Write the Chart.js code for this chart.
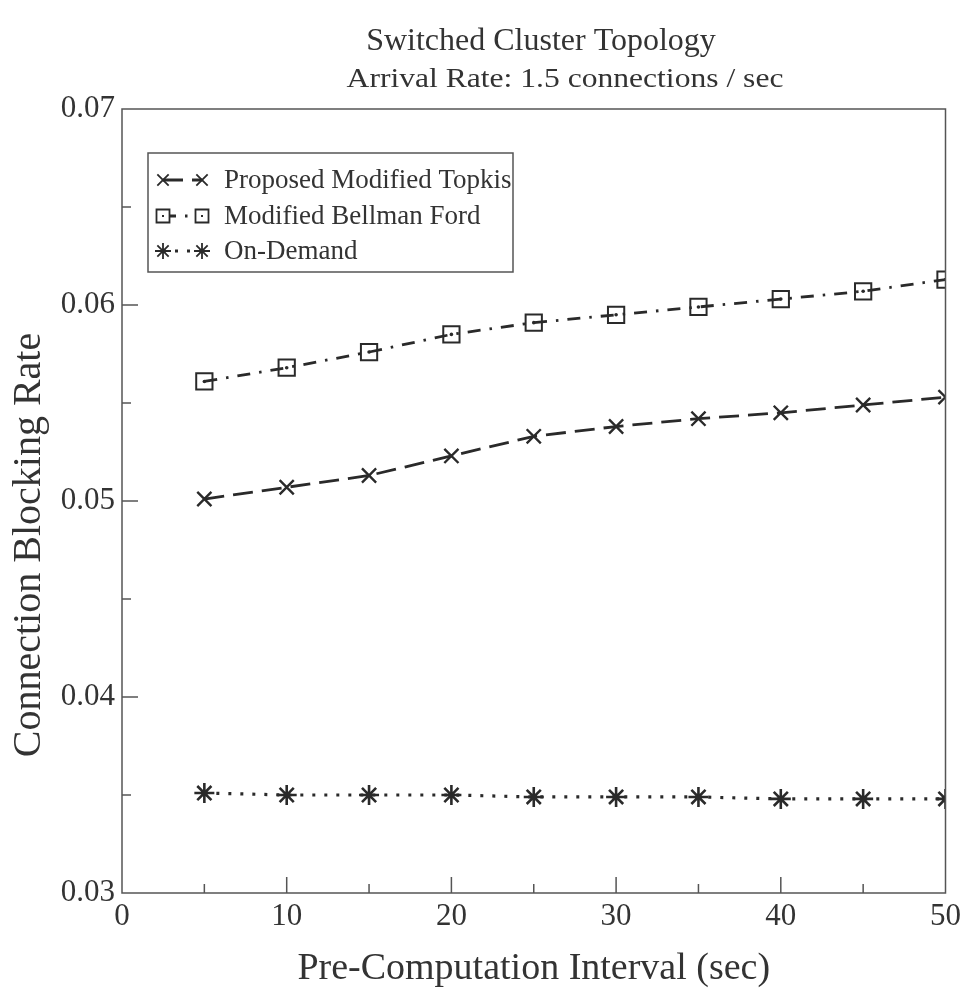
<!DOCTYPE html>
<html>
<head>
<meta charset="utf-8">
<script src="https://cdn.jsdelivr.net/npm/chart.js@4.4.1/dist/chart.umd.min.js"></script>
<style>
  html, body { margin: 0; padding: 0; background: #fff; }
  #wrap { width: 966px; height: 997px; }
</style>
</head>
<body>
<div id="wrap"><canvas id="myChart" width="966" height="997"></canvas></div>
<script>
// values
const intervals = [5, 10, 15, 20, 25, 30, 35, 40, 45, 50];
const topkis = [0.0501, 0.0507, 0.0513, 0.0523, 0.0533, 0.0538, 0.0542, 0.0545, 0.0549, 0.0553];
const bellman = [0.0561, 0.0568, 0.0576, 0.0585, 0.0591, 0.0595, 0.0599, 0.0603, 0.0607, 0.0613];
const onDemand = [0.0351, 0.0350, 0.0350, 0.0350, 0.0349, 0.0349, 0.0349, 0.0348, 0.0348, 0.0348];
const xTicks = [0, 10, 20, 30, 40, 50];
const yTicks = [0.03, 0.04, 0.05, 0.06, 0.07];

const ink = '#2a2a2a';
const axisInk = '#555';
const serif = "'Liberation Serif', 'DejaVu Serif', serif";

function pts(ys) {
  return intervals.map((x, i) => ({ x: x, y: ys[i] }));
}

// frame, inward ticks, titles and the two-marker legend
const decor = {
  id: 'decor',
  afterDraw(chart) {
    const ctx = chart.ctx;
    const a = chart.chartArea;
    const xs = chart.scales.x;
    const ys = chart.scales.y;
    ctx.save();
    ctx.strokeStyle = axisInk;
    ctx.lineWidth = 1.5;
    ctx.strokeRect(a.left, a.top, a.right - a.left, a.bottom - a.top);
    // ticks pointing into the plot
    ctx.beginPath();
    for (let v = 5; v < 50; v += 5) {
      const len = v % 10 === 0 ? 16 : 9;
      const px = xs.getPixelForValue(v);
      ctx.moveTo(px, a.bottom);
      ctx.lineTo(px, a.bottom - len);
    }
    for (let k = 1; k < 8; k++) {
      const v = 0.03 + k * 0.005;
      const len = k % 2 === 0 ? 16 : 9;
      const py = ys.getPixelForValue(v);
      ctx.moveTo(a.left, py);
      ctx.lineTo(a.left + len, py);
    }
    ctx.stroke();

    // titles
    ctx.fillStyle = '#333';
    ctx.textAlign = 'center';
    ctx.textBaseline = 'alphabetic';
    ctx.font = '32px ' + serif;
    ctx.fillText('Switched Cluster Topology', 541, 50);
    ctx.save();
    ctx.translate(565, 87);
    ctx.scale(1.17, 1);
    ctx.font = '27px ' + serif;
    ctx.fillText('Arrival Rate: 1.5 connections / sec', 0, 0);
    ctx.restore();

    // y axis title, sitting a little below the middle as in the scan
    ctx.save();
    ctx.translate(29, 545);
    ctx.rotate(-Math.PI / 2);
    ctx.textBaseline = 'middle';
    ctx.font = '40px ' + serif;
    ctx.fillText('Connection Blocking Rate', 0, 0);
    ctx.restore();

    // legend
    const box = { x: 148, y: 153, w: 365, h: 119 };
    ctx.fillStyle = '#fff';
    ctx.fillRect(box.x, box.y, box.w, box.h);
    ctx.strokeStyle = axisInk;
    ctx.lineWidth = 1.5;
    ctx.strokeRect(box.x, box.y, box.w, box.h);
    const rows = [180, 216, 251];
    const shown = chart.data.datasets.filter(d => !d.hideInLegend);
    shown.forEach((d, i) => {
      const y = rows[i];
      const x1 = 163, x2 = 202;
      ctx.save();
      ctx.strokeStyle = ink;
      ctx.lineWidth = d.borderWidth;
      ctx.setLineDash(d.borderDash || []);
      ctx.beginPath();
      ctx.moveTo(x1, y);
      ctx.lineTo(x2, y);
      ctx.stroke();
      ctx.setLineDash([]);
      ctx.lineWidth = 1.8;
      ctx.fillStyle = d.pointStyle === 'star' ? ink : '#fff';
      const opts = { pointStyle: d.pointStyle, radius: d.pointRadius * 0.8, borderWidth: 1.8, rotation: 0 };
      Chart.helpers.drawPoint(ctx, opts, x1, y);
      Chart.helpers.drawPoint(ctx, opts, x2, y);
      if (d.pointStyle === 'rect') {
        ctx.fillStyle = ink;
        ctx.fillRect(x1 - 1, y - 1, 2, 2);
        ctx.fillRect(x2 - 1, y - 1, 2, 2);
      }
      ctx.restore();
      ctx.fillStyle = '#333';
      ctx.textAlign = 'left';
      ctx.textBaseline = 'middle';
      ctx.font = '27px ' + serif;
      ctx.fillText(d.label, 224, y + 1);
    });
    ctx.restore();
  }
};

new Chart(document.getElementById('myChart'), {
  type: 'line',
  data: {
    datasets: [{
      label: 'Proposed Modified Topkis',
      data: pts(topkis),
      borderColor: ink,
      borderWidth: 2.8,
      borderDash: [20, 9],
      pointStyle: 'crossRot',
      pointRadius: 10,
      pointBorderWidth: 2.4,
      pointBorderColor: ink,
      fill: false,
      tension: 0
    }, {
      label: 'Modified Bellman Ford',
      data: pts(bellman),
      borderColor: ink,
      borderWidth: 2.8,
      borderDash: [13, 9, 2.5, 9],
      pointStyle: 'rect',
      pointRadius: 11.5,
      pointBorderWidth: 2,
      pointBorderColor: ink,
      pointBackgroundColor: 'rgba(255,255,255,0)',
      fill: false,
      tension: 0
    }, {
      label: 'On-Demand',
      data: pts(onDemand),
      borderColor: ink,
      borderWidth: 3.2,
      borderDash: [3, 9],
      pointStyle: 'star',
      pointRadius: 10,
      pointBorderWidth: 2.6,
      pointBorderColor: ink,
      pointBackgroundColor: ink,
      fill: false,
      tension: 0
    }, {
      label: 'bellman centre dots',
      hideInLegend: true,
      data: pts(bellman),
      showLine: false,
      pointStyle: 'circle',
      pointRadius: 1.8,
      pointBorderWidth: 0,
      pointBackgroundColor: ink
    }]
  },
  options: {
    responsive: false,
    animation: false,
    layout: { padding: { top: 109, right: 15, left: 0, bottom: 0 } },
    plugins: {
      legend: { display: false },
      tooltip: { enabled: false }
    },
    scales: {
      x: {
        type: 'linear',
        min: 0,
        max: 50,
        afterBuildTicks: s => { s.ticks = xTicks.map(v => ({ value: v })); },
        afterFit: s => { s.height = 997 - 893; },
        grid: { display: false, drawTicks: false },
        border: { display: false },
        ticks: { color: '#333', font: { family: serif, size: 31 }, padding: 5, maxRotation: 0 },
        title: { display: true, text: 'Pre-Computation Interval (sec)', color: '#333',
                 font: { family: serif, size: 38 }, padding: { top: 0, bottom: 5 } }
      },
      y: {
        type: 'linear',
        min: 0.03,
        max: 0.07,
        afterBuildTicks: s => { s.ticks = yTicks.map(v => ({ value: v })); },
        afterFit: s => { s.width = 122; },
        grid: { display: false, drawTicks: false },
        border: { display: false },
        ticks: { color: '#333', font: { family: serif, size: 31 }, padding: 7,
                 callback: v => v.toFixed(2) },
        title: { display: false }
      }
    }
  },
  plugins: [decor]
});
</script>
</body>
</html>
